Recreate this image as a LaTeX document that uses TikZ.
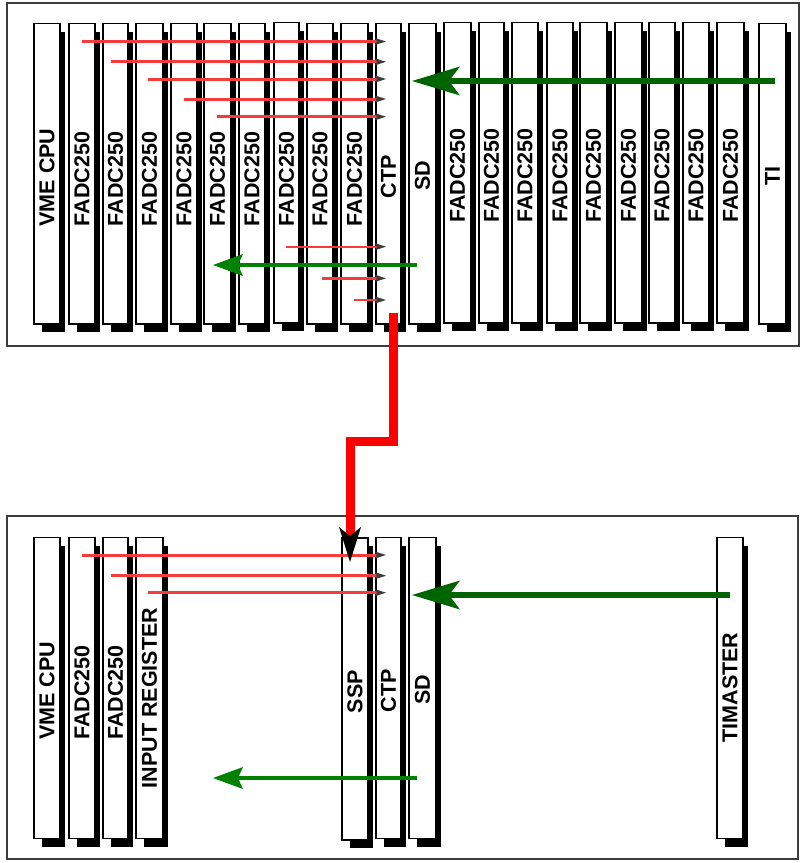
\documentclass[tikz,border=0pt]{standalone}
\usepackage{fontspec}
\setmainfont{Liberation Sans}
\usetikzlibrary{arrows.meta,fit}
\definecolor{dgreen}{RGB}{0,100,0}
\definecolor{bgreen}{RGB}{0,130,0}
\definecolor{lred}{RGB}{245,60,60}
\definecolor{tipgray}{RGB}{60,60,60}
\definecolor{cratec}{RGB}{60,60,60}
\tikzset{
  board/.style={draw=black, fill=white, line width=1.4pt, inner sep=0pt},
  lbl/.style={rotate=90, inner sep=0pt, font=\fontsize{21.5}{21.5}\selectfont\bfseries},
  crate/.style={draw=cratec, line width=1.3pt, inner sep=0pt},
  sig/.style={lred, line width=3pt, -{Stealth[length=11pt,width=7pt,inset=2pt,line width=0pt,color=tipgray]}},
  trig/.style={dgreen, line width=5.6pt, -{Stealth[length=48pt,width=29pt,inset=11pt,line width=0pt]}},
  busy/.style={bgreen, line width=4.6pt, -{Stealth[length=30pt,width=22pt,inset=5pt,line width=0pt]}},
  link/.style={red, line width=9pt, line join=miter, -{Stealth[length=35pt,width=22pt,inset=9pt,line width=0pt,color=black]}}
}
% name, xleft, xright, top, bottom, label y, text
\newcommand\brd[7]{%
  \fill[black] (#2+8,#4+8) rectangle (#3+4.5,#5+8);
  \node[board, fit={(#2,#4) (#3,#5)}] (#1) {};
  \node[lbl] (#1-t) at ({(#2+#3)/2},#6) {#7};
}
\begin{document}
\begin{tikzpicture}[x=1pt,y=-1pt]
\useasboundingbox (0,0) rectangle (801,863);
\node[crate, fit={(7,3) (799,346)}] (crateA) {};
\node[crate, fit={(7,516) (798,859)}] (crateB) {};

% top crate
\def\tt{23.5}\def\tb{324}
\brd{vme}{34}{60}{\tt}{\tb}{177.5}{VME CPU}
\brd{f1}{69}{95}{\tt}{\tb}{179}{FADC250}
\brd{f2}{103}{128}{\tt}{\tb}{179}{FADC250}
\brd{f3}{136}{163}{\tt}{\tb}{179}{FADC250}
\brd{f4}{171}{197}{\tt}{\tb}{179}{FADC250}
\brd{f5}{204}{231}{\tt}{\tb}{179}{FADC250}
\brd{f6}{239}{265}{\tt}{\tb}{179}{FADC250}
\brd{f7}{274}{299}{22.5}{323}{179}{FADC250}
\brd{f8}{307}{333}{\tt}{\tb}{179}{FADC250}
\brd{f9}{341}{368}{\tt}{\tb}{179}{FADC250}
\brd{ctp}{376}{401}{\tt}{\tb}{176.5}{CTP}
\brd{sd}{409}{436}{\tt}{\tb}{176}{SD}
\brd{g1}{444}{471}{22.5}{323}{175.5}{FADC250}
\brd{g2}{479}{504}{22.5}{323}{175.5}{FADC250}
\brd{g3}{512}{538}{22.5}{323}{175.5}{FADC250}
\brd{g4}{547}{573}{22.5}{323}{175.5}{FADC250}
\brd{g5}{580}{607}{22.5}{323}{175.5}{FADC250}
\brd{g6}{615}{642}{22.5}{323}{175.5}{FADC250}
\brd{g7}{649}{675}{22.5}{323}{175.5}{FADC250}
\brd{g8}{683}{709}{22.5}{323}{175.5}{FADC250}
\brd{g9}{717}{744}{22.5}{323}{175.5}{FADC250}
\brd{ti}{759}{786}{\tt}{\tb}{176}{TI}

% bottom crate
\def\bt{537.5}\def\bb{838.5}
\brd{vmeB}{34}{60}{\bt}{\bb}{691}{VME CPU}
\brd{bf1}{69}{95}{\bt}{\bb}{692.5}{FADC250}
\brd{bf2}{103}{128}{\bt}{\bb}{692.5}{FADC250}
\brd{inp}{136}{163}{\bt}{\bb}{698}{INPUT REGISTER}
\brd{ssp}{342}{368}{538}{840}{691.5}{SSP}
\brd{ctpB}{376}{401}{\bt}{\bb}{691}{CTP}
\brd{sdB}{409}{436}{\bt}{\bb}{690}{SD}
\brd{tim}{717}{743}{\bt}{\bb}{687.5}{TIMASTER}

% thin red signal lines
\foreach \n/\x/\y/\w in {a1/82/41.5/3, a2/111/61.8/3, a3/148/79/3, a4/184/99/3, a5/217/116.7/2.6,
                        a6/286/246.7/2.4, a7/322/278.3/2.4, a8/354/300/2.4,
                        b1/82/555/3, b2/111/575.7/3, b3/148/592.7/3} {
  \coordinate (\n s) at (\x,\y);
  \coordinate (\n e) at (386,\y);
  \draw[sig, line width=\w pt] (\n s) -- (\n e);
}

% green lines
\coordinate (tiA) at (775,81);   \coordinate (tiE) at (412,81);
\draw[trig] (tiA) -- (tiE);
\coordinate (sdA) at (417,265);  \coordinate (sdE) at (213,265);
\draw[busy] (sdA) -- (sdE);
\coordinate (tmA) at (730,595);  \coordinate (tmE) at (412,595);
\draw[trig] (tmA) -- (tmE);
\coordinate (sdBA) at (417,778); \coordinate (sdBE) at (213,778);
\draw[busy] (sdBA) -- (sdBE);

% crate link
\coordinate (lk1) at (393,313);
\coordinate (lk2) at (350,562);
\draw[link] (lk1) -- (393,441) -- (350,441) -- (lk2);
\end{tikzpicture}
\end{document}
